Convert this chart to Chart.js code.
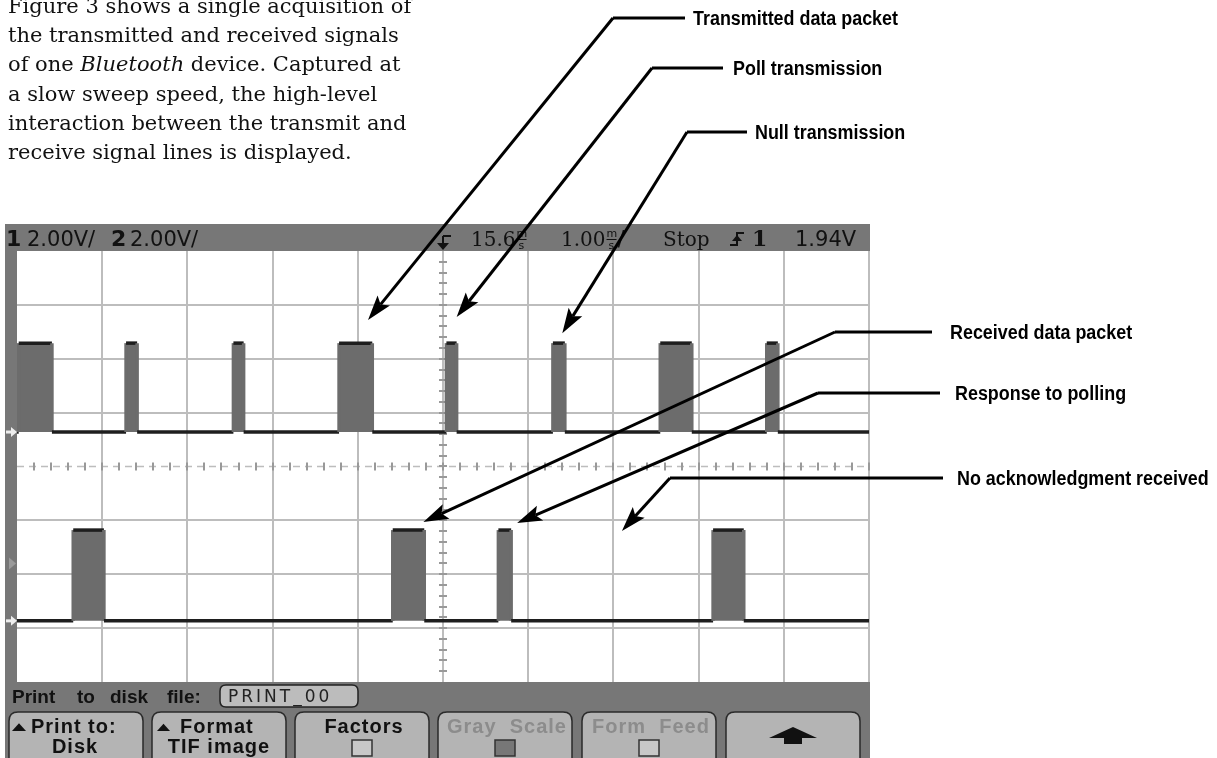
<!DOCTYPE html>
<html>
<head>
<meta charset="utf-8">
<script src="https://cdn.jsdelivr.net/npm/chart.js@4.4.1/dist/chart.umd.min.js"></script>
<style>
  html, body { margin: 0; background: #fff; }
  canvas { display: block; }
</style>
</head>
<body>
<canvas id="scope" width="1217" height="758"></canvas>
<script>
// screen: 10 div x 1.00 ms/div around the 15.6 ms delay, 8 div x 2.00 V/div
const timeMin = 10.6, timeMax = 20.6;
const voltMin = -8, voltMax = 8;

// channel 1 (transmit) bursts, ms
const ch1Start = [10.62, 11.88, 13.14, 14.38, 15.64, 16.89, 18.15, 19.40];
const ch1End   = [11.01, 12.01, 13.26, 14.77, 15.76, 17.03, 18.52, 19.53];
const ch1Level = [1.28, 4.58]; // idle, high (screen volts)

// channel 2 (receive) bursts, ms
const ch2Start = [11.26, 15.01, 16.25, 18.77];
const ch2End   = [11.62, 15.38, 16.40, 19.13];
const ch2Level = [-5.73, -2.36];

// callouts: label and where the arrow points (ms, screen volts)
const calloutText = ['Transmitted data packet', 'Poll transmission', 'Null transmission',
                     'Received data packet', 'Response to polling', 'No acknowledgment received'];
const calloutTime = [14.72, 15.76, 17.00, 15.37, 16.47, 17.70];
const calloutVolt = [5.44, 5.55, 4.95, -2.06, -2.10, -2.39];

const headerLeft = ['1', '2.00V/', '2', '2.00V/'];
const headerDelay = '15.6', headerScale = '1.00', headerRun = 'Stop', headerTrig = '1', headerLevel = '1.94V';
const fileLabel = ['Print', 'to', 'disk', 'file:'];
const fileName = 'PRINT_00';
const btnTop = ['Print to:', 'Format', 'Factors', 'Gray  Scale', 'Form  Feed', ''];
const btnBottom = ['Disk', 'TIF image', '', '', '', ''];

const caption = [
  ['Figure 3 shows a single acquisition of'],
  ['the transmitted and received signals'],
  ['of one ', 'Bluetooth', ' device. Captured at'],
  ['a slow sweep speed, the high-level'],
  ['interaction between the transmit and'],
  ['receive signal lines is displayed.']
];

function wave(starts, ends, level) {
  const pts = [{ x: timeMin, y: level[0] }];
  starts.forEach((s, i) => {
    pts.push({ x: s, y: level[0] }, { x: s, y: level[1] }, { x: ends[i], y: level[1] }, { x: ends[i], y: level[0] });
  });
  pts.push({ x: timeMax, y: level[0] });
  return pts;
}

const sideColor = '#6c6c6c';
function trace(label, starts, ends, level) {
  return {
    label,
    data: wave(starts, ends, level),
    borderColor: '#1e1e1e',
    borderWidth: 3.5,
    backgroundColor: sideColor,
    fill: { value: level[0] },
    pointRadius: 0,
    tension: 0,
    segment: {
      borderColor: c => (c.p0.parsed.x === c.p1.parsed.x ? sideColor : undefined)
    }
  };
}

function arrow(ctx, x0, y0, x1, y1) {
  const a = Math.atan2(y1 - y0, x1 - x0), len = 25, hw = 8;
  const bx = x1 - len * Math.cos(a), by = y1 - len * Math.sin(a);
  const nx = bx + 5 * Math.cos(a), ny = by + 5 * Math.sin(a);
  ctx.beginPath();
  ctx.moveTo(x0, y0);
  ctx.lineTo(nx, ny);
  ctx.stroke();
  ctx.beginPath();
  ctx.moveTo(x1, y1);
  ctx.lineTo(bx - hw * Math.sin(a), by + hw * Math.cos(a));
  ctx.lineTo(nx, ny);
  ctx.lineTo(bx + hw * Math.sin(a), by - hw * Math.cos(a));
  ctx.closePath();
  ctx.fill();
}

function roundRect(ctx, x, y, w, h, r) {
  ctx.beginPath();
  ctx.moveTo(x + r, y);
  ctx.lineTo(x + w - r, y);
  ctx.quadraticCurveTo(x + w, y, x + w, y + r);
  ctx.lineTo(x + w, y + h - r);
  ctx.quadraticCurveTo(x + w, y + h, x + w - r, y + h);
  ctx.lineTo(x + r, y + h);
  ctx.quadraticCurveTo(x, y + h, x, y + h - r);
  ctx.lineTo(x, y + r);
  ctx.quadraticCurveTo(x, y, x + r, y);
  ctx.closePath();
}

function upTri(ctx, x, y, w) {
  ctx.beginPath();
  ctx.moveTo(x, y);
  ctx.lineTo(x + w, y);
  ctx.lineTo(x + w / 2, y - w * 0.55);
  ctx.closePath();
  ctx.fill();
}

// stacked "m over s" unit used by the scope header
function msUnit(ctx, px) {
  ctx.font = '11px "DejaVu Sans"';
  ctx.fillText('m', px, 237);
  ctx.fillText('s', px + 2, 249);
  ctx.fillRect(px, 239, 10, 1);
}

const scopeScreen = {
  id: 'scopeScreen',
  beforeDraw(chart) {
    const { ctx, chartArea: a } = chart;
    ctx.save();
    ctx.fillStyle = '#fff';
    ctx.fillRect(0, 0, chart.width, chart.height);
    ctx.fillStyle = '#777';
    ctx.fillRect(5, 224, 865, 540);
    ctx.fillStyle = '#fff';
    ctx.fillRect(a.left, a.top, a.right - a.left, a.bottom - a.top);
    ctx.restore();
  },
  beforeDatasetsDraw(chart) {
    const { ctx, chartArea: a, scales: { x, y } } = chart;
    ctx.save();
    ctx.strokeStyle = '#bdbdbd';
    ctx.lineWidth = 2;
    const xc = x.getPixelForValue((timeMin + timeMax) / 2);
    const yc = y.getPixelForValue(0);
    for (let t = timeMin + 1; t < timeMax + 0.5; t += 1) {
      const px = Math.round(x.getPixelForValue(t));
      ctx.beginPath(); ctx.moveTo(px, a.top); ctx.lineTo(px, a.bottom); ctx.stroke();
    }
    for (let v = voltMin + 2; v < voltMax; v += 2) {
      if (v === 0) continue;
      const py = Math.round(y.getPixelForValue(v));
      ctx.beginPath(); ctx.moveTo(a.left, py); ctx.lineTo(a.right, py); ctx.stroke();
    }
    // centre horizontal: dashed with minor ticks
    ctx.setLineDash([7, 5]);
    ctx.lineWidth = 1.5;
    ctx.beginPath(); ctx.moveTo(a.left, yc); ctx.lineTo(a.right, yc); ctx.stroke();
    ctx.setLineDash([]);
    ctx.strokeStyle = '#999';
    ctx.lineWidth = 2;
    for (let t = timeMin + 0.2; t < timeMax; t += 0.2) {
      const px = Math.round(x.getPixelForValue(t));
      ctx.beginPath(); ctx.moveTo(px, yc - 4); ctx.lineTo(px, yc + 4); ctx.stroke();
    }
    for (let v = voltMin + 0.4; v < voltMax; v += 0.4) {
      const py = Math.round(y.getPixelForValue(v));
      ctx.beginPath(); ctx.moveTo(xc - 4, py); ctx.lineTo(xc + 4, py); ctx.stroke();
    }
    ctx.restore();
  },
  afterDraw(chart) {
    const { ctx, scales: { x, y } } = chart;
    ctx.save();

    // ground markers on the left strip
    ctx.fillStyle = '#eee';
    [ch1Level[0], ch2Level[0]].forEach(v => {
      const py = y.getPixelForValue(v);
      ctx.fillRect(6, py - 1.5, 7, 3);
      ctx.beginPath(); ctx.moveTo(17, py); ctx.lineTo(11, py - 5); ctx.lineTo(11, py + 5); ctx.closePath(); ctx.fill();
    });
    ctx.fillStyle = '#9a9a9a';
    const pyT = y.getPixelForValue(-3.6);
    ctx.beginPath(); ctx.moveTo(16, pyT); ctx.lineTo(9, pyT - 6); ctx.lineTo(9, pyT + 6); ctx.closePath(); ctx.fill();

    // header
    ctx.fillStyle = '#111';
    ctx.textBaseline = 'alphabetic';
    ctx.font = 'bold 22px "DejaVu Sans"';
    ctx.fillText(headerLeft[0], 6, 246);
    ctx.fillText(headerLeft[2], 111, 246);
    ctx.font = '21px "DejaVu Sans"';
    ctx.fillText(headerLeft[1], 27, 246);
    ctx.fillText(headerLeft[3], 130, 246);
    // trigger position marker
    const xc = x.getPixelForValue((timeMin + timeMax) / 2);
    ctx.strokeStyle = '#111';
    ctx.lineWidth = 2;
    ctx.beginPath(); ctx.moveTo(xc, 236); ctx.lineTo(xc, 246); ctx.moveTo(xc, 236); ctx.lineTo(xc + 8, 236); ctx.stroke();
    ctx.beginPath(); ctx.moveTo(xc - 6, 243); ctx.lineTo(xc + 6, 243); ctx.lineTo(xc, 250); ctx.closePath(); ctx.fill();
    ctx.font = '20px "DejaVu Serif"';
    ctx.fillText(headerDelay, 471, 246);
    let w = ctx.measureText(headerDelay).width;
    msUnit(ctx, 471 + w + 1);
    ctx.font = '20px "DejaVu Serif"';
    ctx.fillText(headerScale, 561, 246);
    w = ctx.measureText(headerScale).width;
    msUnit(ctx, 561 + w + 1);
    ctx.font = '21px "DejaVu Sans"';
    ctx.fillText('/', 561 + w + 12, 246);
    ctx.font = '20px "DejaVu Serif"';
    ctx.fillText(headerRun, 663, 246);
    // slope symbol
    ctx.beginPath();
    ctx.moveTo(730, 245); ctx.lineTo(737, 245); ctx.lineTo(737, 233); ctx.lineTo(744, 233); ctx.stroke();
    ctx.beginPath(); ctx.moveTo(732, 241); ctx.lineTo(742, 241); ctx.lineTo(737, 235); ctx.closePath(); ctx.fill();
    ctx.font = 'bold 22px "DejaVu Serif"';
    ctx.fillText(headerTrig, 752, 246);
    ctx.font = '21px "DejaVu Sans"';
    ctx.fillText(headerLevel, 795, 246);

    // file bar
    ctx.font = 'bold 19px "Liberation Sans"';
    const wordX = [12, 77, 110, 167];
    fileLabel.forEach((wd, i) => ctx.fillText(wd, wordX[i], 703));
    ctx.fillStyle = '#bcbcbc';
    roundRect(ctx, 220, 685, 138, 22, 6);
    ctx.fill();
    ctx.strokeStyle = '#222';
    ctx.lineWidth = 1.5;
    ctx.stroke();
    ctx.fillStyle = '#222';
    ctx.font = '17px "DejaVu Sans"';
    ctx.letterSpacing = '3px';
    ctx.fillText(fileName, 228, 702);
    ctx.letterSpacing = '1px';

    // soft keys
    const btnX = [9, 152, 295, 438, 582, 726];
    btnX.forEach((bx, i) => {
      ctx.fillStyle = '#b4b4b4';
      roundRect(ctx, bx, 712, 134, 56, 9);
      ctx.fill();
      ctx.strokeStyle = '#2a2a2a';
      ctx.lineWidth = 1.5;
      ctx.stroke();
      const dim = i === 3 || i === 4;
      ctx.fillStyle = dim ? '#8c8c8c' : '#111';
      ctx.font = 'bold 20px "Liberation Sans"';
      ctx.textAlign = 'center';
      const cx = bx + 67;
      if (i === 0) {
        upTri(ctx, 12, 731, 14);
        ctx.textAlign = 'left';
        ctx.fillText(btnTop[i], 31, 733);
        ctx.textAlign = 'center';
        ctx.fillText(btnBottom[i], 75, 753);
      } else if (i === 1) {
        upTri(ctx, 157, 731, 13);
        ctx.textAlign = 'left';
        ctx.fillText(btnTop[i], 180, 733);
        ctx.textAlign = 'center';
        ctx.fillText(btnBottom[i], 219, 753);
      } else if (i < 5) {
        ctx.fillText(btnTop[i], cx + 2, 733);
        ctx.fillStyle = i === 3 ? '#777' : '#c8c8c8';
        ctx.fillRect(cx - 10, 740, 20, 16);
        ctx.strokeStyle = '#333';
        ctx.lineWidth = 1.5;
        ctx.strokeRect(cx - 10, 740, 20, 16);
      } else {
        ctx.fillStyle = '#111';
        ctx.beginPath();
        ctx.moveTo(cx, 727); ctx.lineTo(cx + 24, 738); ctx.lineTo(cx - 24, 738); ctx.closePath(); ctx.fill();
        ctx.fillRect(cx - 9, 738, 18, 6);
      }
      ctx.textAlign = 'left';
    });
    ctx.letterSpacing = '0px';

    // caption
    ctx.fillStyle = '#111';
    caption.forEach((parts, i) => {
      let px = 8;
      parts.forEach((p, j) => {
        ctx.font = (parts.length > 1 && j === 1 ? 'italic ' : '') + '21px "DejaVu Serif"';
        ctx.fillText(p, px, 13 + i * 29.2);
        px += ctx.measureText(p).width;
      });
    });

    // callouts (condensed bold)
    const lineY = [18, 68, 132, 332, 393, 478];
    const elbowX = [613, 652, 687, 835, 818, 670];
    const lineEnd = [685, 723, 747, 932, 940, 943];
    const textX = [693, 733, 755, 950, 955, 957];
    ctx.strokeStyle = '#000';
    ctx.fillStyle = '#000';
    ctx.lineWidth = 3;
    ctx.font = 'bold 20px "Liberation Sans"';
    const squeeze = 205 / ctx.measureText(calloutText[0]).width;
    calloutText.forEach((t, i) => {
      ctx.beginPath();
      ctx.moveTo(lineEnd[i], lineY[i]);
      ctx.lineTo(elbowX[i], lineY[i]);
      ctx.stroke();
      arrow(ctx, elbowX[i], lineY[i], x.getPixelForValue(calloutTime[i]), y.getPixelForValue(calloutVolt[i]));
      ctx.save();
      ctx.translate(textX[i], lineY[i] + 7);
      ctx.scale(squeeze, 1);
      ctx.fillText(t, 0, 0);
      ctx.restore();
    });
    ctx.restore();
  }
};

new Chart(document.getElementById('scope'), {
  type: 'line',
  data: {
    datasets: [
      trace('Channel 1', ch1Start, ch1End, ch1Level),
      trace('Channel 2', ch2Start, ch2End, ch2Level)
    ]
  },
  options: {
    responsive: false,
    animation: false,
    layout: { padding: { left: 17, top: 251, right: 348, bottom: 76 } },
    scales: {
      x: { type: 'linear', min: timeMin, max: timeMax, display: false },
      y: { min: voltMin, max: voltMax, display: false }
    },
    plugins: { legend: { display: false }, tooltip: { enabled: false } }
  },
  plugins: [scopeScreen]
});
</script>
</body>
</html>
